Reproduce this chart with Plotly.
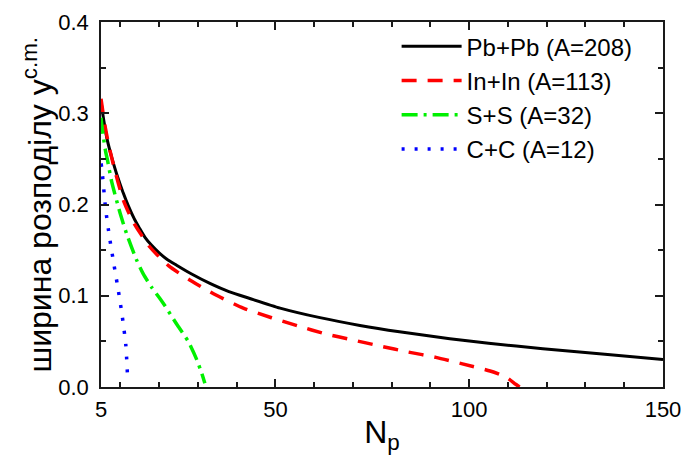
import plotly.graph_objects as go

# Pb+Pb (A=208)
pb_x = [5, 5.5, 6, 6.5, 7.3, 8, 9, 10, 10.75, 12, 13.5, 15, 16.35, 18, 20, 22, 24.5, 28.5, 33.1, 38, 43.4, 51.2, 61.5, 71.8, 82, 95, 105, 119, 135, 150]
pb_y = [0.313, 0.298, 0.285, 0.273, 0.259, 0.248, 0.234, 0.2215, 0.2125, 0.199, 0.185, 0.1735, 0.164, 0.1555, 0.147, 0.140, 0.1335, 0.1235, 0.1135, 0.1045, 0.097, 0.0865, 0.076, 0.0675, 0.0605, 0.053, 0.048, 0.042, 0.036, 0.030]

# In+In (A=113)
in_x = [5, 6, 7, 8.6, 10.75, 13.3, 17.5, 22.4, 28, 34.8, 41.7, 49, 55.9, 62.8, 69.7, 77, 84.3, 91.4, 98, 105.4, 108, 110, 112, 113]
in_y = [0.316, 0.287, 0.265, 0.237, 0.205, 0.181, 0.154, 0.133, 0.117, 0.1005, 0.0865, 0.0759, 0.0668, 0.0584, 0.0518, 0.0449, 0.0383, 0.0325, 0.0256, 0.0175, 0.0135, 0.0095, 0.003, 0.0]

# S+S (A=32)
s_x = [5, 5.5, 6.2, 6.7, 7.75, 9.9, 11.6, 14.2, 15.9, 18.1, 20.2, 21.5, 24.5, 27.5, 29.7, 31.0, 31.8]
s_y = [0.295, 0.277, 0.258, 0.248, 0.225, 0.191, 0.168, 0.139, 0.124, 0.109, 0.097, 0.089, 0.069, 0.050, 0.030, 0.015, 0.004]

# C+C (A=12)
c_x = [5, 5.2, 6.2, 7.2, 8.35, 9.5, 10.5, 11.4, 11.9]
c_y = [0.245, 0.240, 0.195, 0.164, 0.134, 0.105, 0.077, 0.046, 0.007]

names = ["Pb+Pb (A=208)", "In+In (A=113)", "S+S (A=32)", "C+C (A=12)"]
x_ticks = [5, 50, 100, 150]
x_minor = [10, 20, 30, 40, 60, 70, 80, 90, 110, 120, 130, 140]
y_ticks = [0.0, 0.1, 0.2, 0.3, 0.4]
y_minor = [0.05, 0.15, 0.25, 0.35]
x_range = [5, 150]
y_range = [0, 0.4]

FONT = "Liberation Sans, Arial, sans-serif"
AX = "#1a1a1a"

fig = go.Figure()
series = [
    (pb_x, pb_y, names[0], dict(color="#000000", width=3, dash="solid")),
    (in_x, in_y, names[1], dict(color="#FF0000", width=3.5, dash="15px,11px")),
    (s_x, s_y, names[2], dict(color="#00F000", width=3.5, dash="16px,6px,3px,6px")),
    (c_x, c_y, names[3], dict(color="#0000FF", width=3.5, dash="3px,10px")),
]
for xs, ys, nm, ln in series:
    fig.add_trace(go.Scatter(x=xs, y=ys, name=nm, mode="lines",
                             line=dict(shape="spline", smoothing=0.6, **ln)))

tickfont = dict(family=FONT, size=22, color="#000000")

fig.update_layout(
    width=682, height=455,
    margin=dict(l=101, r=19, t=22, b=68),
    paper_bgcolor="white", plot_bgcolor="white",
    font=dict(family=FONT, color="#000000"),
    xaxis=dict(
        range=x_range, tickmode="array", tickvals=x_ticks,
        ticktext=[str(v) for v in x_ticks],
        showline=True, linecolor=AX, linewidth=1.5, mirror="allticks",
        ticks="inside", ticklen=8, tickwidth=1.5, tickcolor=AX,
        showgrid=False, zeroline=False, automargin=False, tickfont=tickfont,
        ticklabelstandoff=2,
        title=dict(text="N<sub>p</sub>", font=dict(family=FONT, size=32, color="#000000"), standoff=0),
    ),
    yaxis=dict(
        range=y_range, tickmode="array", tickvals=y_ticks,
        ticktext=[f"{v:.1f}" for v in y_ticks],
        showline=True, linecolor=AX, linewidth=1.5, mirror="allticks",
        ticks="inside", ticklen=8, tickwidth=1.5, tickcolor=AX,
        showgrid=False, zeroline=False, automargin=False, tickfont=tickfont,
        ticklabelstandoff=6,
    ),
    xaxis2=dict(
        range=x_range, overlaying="x", anchor="y", side="bottom",
        tickmode="array", tickvals=x_minor, showticklabels=False,
        ticks="inside", ticklen=5, tickwidth=1.5, tickcolor=AX, mirror="allticks",
        showline=False, showgrid=False, zeroline=False, automargin=False,
    ),
    yaxis2=dict(
        range=y_range, overlaying="y", anchor="x", side="left",
        tickmode="array", tickvals=y_minor, showticklabels=False,
        ticks="inside", ticklen=5, tickwidth=1.5, tickcolor=AX, mirror="allticks",
        showline=False, showgrid=False, zeroline=False, automargin=False,
    ),
    legend=dict(x=0.526, y=0.994, xanchor="left", yanchor="top",
                bgcolor="rgba(0,0,0,0)", borderwidth=0,
                font=dict(family=FONT, size=24, color="#000000"),
                itemwidth=60, tracegroupgap=0),
    showlegend=True,
    annotations=[dict(
        text="ширина розподілу y<sup>c.m.</sup>", textangle=-90,
        xref="paper", yref="paper", x=-0.1139, y=0.5,
        xanchor="center", yanchor="middle", showarrow=False,
        font=dict(family=FONT, size=32, color="#000000"),
    )],
)

# invisible helper trace so the minor-tick axes are drawn
fig.add_trace(go.Scatter(x=[x_range[0]], y=[y_range[0]], xaxis="x2", yaxis="y2",
                         mode="markers", marker=dict(opacity=0), showlegend=False,
                         hoverinfo="skip"))

fig.write_html("out.html")
